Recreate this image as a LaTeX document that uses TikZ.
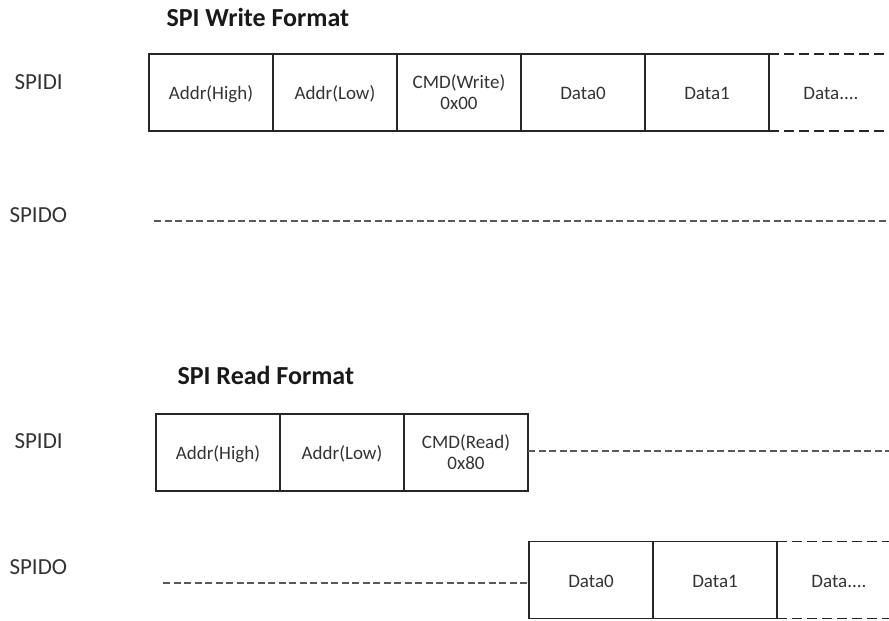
\documentclass[tikz,border=0pt]{standalone}
\usepackage{fontspec}
\setmainfont{Carlito}
\usepackage{tikz}
\usetikzlibrary{positioning}
\tikzset{
node distance=124pt, % one field width, so the fields touch
field/.style={draw=black!85, line width=1.3pt, text=black!80, minimum width=124pt, minimum height=77pt, inner sep=0pt, outer sep=0pt, align=center, font=\fontsize{19}{21}\selectfont}, % one byte on the wire
onefield/.style={field, text height=14pt, text depth=0pt}, % single line, common baseline
openfield/.style={onefield, dash pattern=on 10pt off 5pt}, % more bytes follow
sig/.style={anchor=base west, text=black!80, font=\fontsize{23}{27}\selectfont}, % pin name
heading/.style={anchor=base west, text=black!90, font=\bfseries\fontsize{26}{30}\selectfont},
idle/.style={draw=black!65, line width=1.3pt, dash pattern=on 7pt off 3.5pt}, % line not driven
}

\begin{document}
\begin{tikzpicture}[x=1pt, y=-1pt]
        \useasboundingbox (0,0) rectangle (889,621);
        \clip (0,0) rectangle (889,621);

        % write frame
        \node[heading] (wtitle) at (163,26) {SPI Write Format};
        \node[sig] (wdi) at (11,89) {SPIDI};
        \node[sig] (wdo) at (6,222) {SPIDO};
        \node[onefield] (wah) at (211,92.5) {Addr(High)};
        \node[onefield, right of=wah] (wal) {Addr(Low)};
        \node[field, right of=wal] (wcmd) {CMD(Write)\\0x00};
        \node[onefield, right of=wcmd] (wd0) {Data0};
        \node[onefield, right of=wd0] (wd1) {Data1};
        \node[openfield, right of=wd1] (wdn) {Data....};
        \coordinate (wdos) at (154,221);
        \coordinate (wdoe) at (889,221);
        \draw[idle] (wdos) -- (wdoe);

        % read frame
        \node[heading] (rtitle) at (174,384.5) {SPI Read Format};
        \node[sig] (rdi) at (11,448.5) {SPIDI};
        \node[sig] (rdo) at (6,574.5) {SPIDO};
        \node[onefield] (rah) at (218,452.5) {Addr(High)};
        \node[onefield, right of=rah] (ral) {Addr(Low)};
        \node[field, right of=ral] (rcmd) {CMD(Read)\\0x80};
        \node[onefield] (rd0) at (591,580) {Data0};
        \node[onefield, right of=rd0] (rd1) {Data1};
        \node[openfield, right of=rd1] (rdn) {Data....};
        \coordinate (rdie) at (889,451);
        \coordinate (rdos) at (163,583);
        \draw[idle] (rcmd.east |- rdie) -- (rdie);
        \draw[idle] (rdos) -- (rdos -| rd0.west);
\end{tikzpicture}
\end{document}
